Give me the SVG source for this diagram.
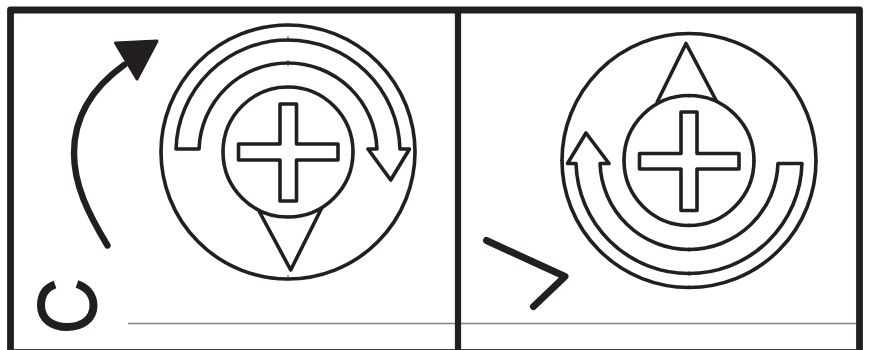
<svg xmlns="http://www.w3.org/2000/svg" width="873" height="350" viewBox="0 0 873 350">
<style>
.t{fill:none;stroke:#231f20;stroke-width:3.6;stroke-linejoin:round}
.w{fill:#fff;stroke:#231f20;stroke-width:3.6;stroke-linejoin:round}
.b{fill:none;stroke:#231f20;stroke-linecap:round;stroke-linejoin:round}
.k{fill:none;stroke:#231f20;stroke-width:.8}
</style>
<rect width="873" height="350" fill="#fff"/>
<g id="frame">
<path d="M128 323.500H856" fill="none" stroke="#808080" stroke-width="1.400"/>
<path d="M14 349.500H455M461 349.500H856" fill="none" stroke="#404040" stroke-width="1"/>
<path d="M10.500 350V10H859.500V350" fill="none" stroke="#231f20" stroke-width="6.800" stroke-linejoin="round"/>
<path d="M458 7V350" fill="none" stroke="#231f20" stroke-width="6.200"/>
</g>
<g id="left-dial">
<circle class="t" cx="288" cy="152" r="127"/>
<path class="t" d="M259 211L290.700 270L321.700 208"/>
<circle class="w" cx="288" cy="152" r="65"/>
<path class="w" d="M280 104H296.500V144H338V160H296.500V201H280V160H238.500V144H280Z"/>
<path class="w" d="M176.040 149A112 112 0 0 1 399.960 149H409.500L390.700 180L368 149H376.950A89 89 0 0 0 199.050 149Z"/>
<path class="k" d="M288 23V27M288 36V42M288 60V66M288 85V89M288 215V219M288 275V281M159 152H163M221 152H225M351 152H355M413 152H417"/>
</g>
<g id="right-dial">
<circle class="t" cx="689" cy="160.500" r="127"/>
<path class="t" d="M656.700 103L686 43.500L717 102"/>
<circle class="w" cx="689" cy="160.500" r="65"/>
<path class="w" d="M681 112H697V153.500H739V169H697V210.500H681V169H639.500V153.500H681Z"/>
<path class="w" d="M801.960 163.500A113 113 0 0 1 576.040 163.500H567.500L586 133L609 163.500H600.050A89 89 0 0 0 777.950 163.500Z"/>
<path class="k" d="M689 94V98M689 223V227M689 247V252M689 271V276M689 285V289M560 160.500H564M622 160.500H626M752 160.500H756M814 160.500H818"/>
</g>
<g id="connectors">
<path class="b" stroke-width="6.400" d="M107.500 245.500C88 213 74 185 74 153C74 118 92 88 124 65"/>
<path d="M115.500 43L157 41L137 79Z" fill="#231f20" stroke="#231f20" stroke-width="3" stroke-linejoin="round"/>
<path class="b" stroke-width="7" d="M486.500 240.500L565 276.500L533.500 306.500"/>
</g>
<g id="symbol">
<path d="M55 284.500C45 288 41 296 41 305.500C41 319 52 327 67 327C82 327 93.500 319 93.500 305.500C93.500 295 87 287.500 77 284" fill="none" stroke="#231f20" stroke-width="8"/>
</g>
</svg>
